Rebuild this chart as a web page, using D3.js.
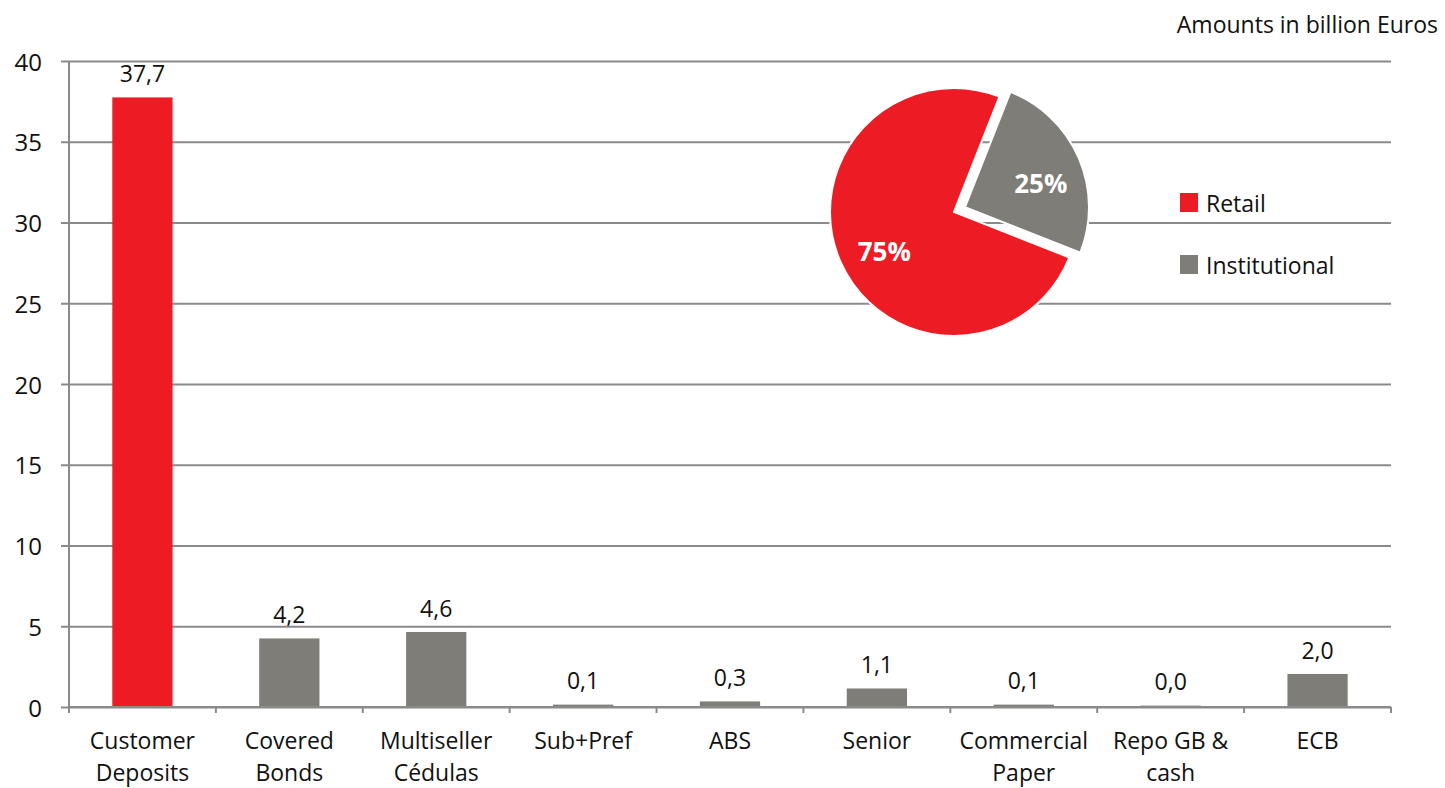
<!DOCTYPE html>
<html>
<head>
<meta charset="utf-8">
<script src="https://cdn.jsdelivr.net/npm/d3@7"></script>
<style>
  html, body { margin: 0; padding: 0; background: #fff; }
  svg { display: block; }
  text { font-family: "Open Sans", "Noto Sans", sans-serif; fill: #111; }
</style>
</head>
<body>
<svg id="chart" width="1445" height="788"></svg>
<script>
// Funding sources, amounts in billion euros
const categories = [
  ["Customer", "Deposits"],
  ["Covered", "Bonds"],
  ["Multiseller", "Cédulas"],
  ["Sub+Pref"],
  ["ABS"],
  ["Senior"],
  ["Commercial", "Paper"],
  ["Repo GB &", "cash"],
  ["ECB"]
];
const amounts = [37.7, 4.2, 4.6, 0.1, 0.3, 1.1, 0.1, 0.04, 2.0];
const segment = ["Retail", "Institutional", "Institutional", "Institutional", "Institutional",
                 "Institutional", "Institutional", "Institutional", "Institutional"];
const yTicks = [0, 5, 10, 15, 20, 25, 30, 35, 40];

// Retail vs institutional split
const splitLabels = ["Retail", "Institutional"];
const splitShares = [75, 25];

const colors = { Retail: "#ed1c24", Institutional: "#7e7d78" };
const gridColor = "#8a8a8a";
const fontSize = 23;

const svg = d3.select("#chart");
const plotLeft = 69, plotRight = 1391, plotTop = 61, plotBottom = 707;

const keys = categories.map(c => c.join(" "));
const x = d3.scaleBand().domain(keys).range([plotLeft, plotRight]).paddingInner(0.6).paddingOuter(0.3);
const y = d3.scaleLinear().domain([0, 40]).range([plotBottom, plotTop]);
const step = x.step();

// Gridlines with left tick marks and value labels
const yAxis = d3.axisLeft(y).tickValues(yTicks).tickSize(-(plotRight - plotLeft + 8)).tickPadding(19)
  .tickFormat(d3.format("d"));
const gy = svg.append("g").attr("transform", `translate(${plotLeft - 8},0)`).call(yAxis);
gy.select(".domain").remove();
gy.selectAll(".tick line").attr("stroke", gridColor).attr("stroke-width", 2);
gy.selectAll(".tick text").attr("font-size", 24).attr("fill", "#111")
  .attr("font-family", "'Open Sans', sans-serif").attr("dy", "0.38em");

// Vertical axis line
svg.append("line").attr("x1", plotLeft).attr("x2", plotLeft).attr("y1", y(40)).attr("y2", y(0))
  .attr("stroke", gridColor).attr("stroke-width", 2);

// Category boundary ticks under the baseline
const bounds = d3.range(keys.length + 1).map(i => plotLeft + i * step);
svg.append("g").selectAll("line").data(bounds).join("line")
  .attr("x1", d => d).attr("x2", d => d).attr("y1", y(0)).attr("y2", y(0) + 6)
  .attr("stroke", gridColor).attr("stroke-width", 2);

// Bars
svg.append("g").selectAll("rect").data(amounts).join("rect")
  .attr("x", (d, i) => x(keys[i]))
  .attr("width", x.bandwidth())
  .attr("y", d => y(d))
  .attr("height", d => Math.max(y(0) - y(d), 0))
  .attr("fill", (d, i) => colors[segment[i]])
  .attr("stroke", (d, i) => colors[segment[i]])
  .attr("stroke-width", 1.5);

// Baseline
svg.append("line").attr("x1", plotLeft).attr("x2", plotRight).attr("y1", y(0)).attr("y2", y(0))
  .attr("stroke", gridColor).attr("stroke-width", 2);

// Value labels
const fmt = d => d3.format(".1f")(d).replace(".", ",");
svg.append("g").selectAll("text").data(amounts).join("text")
  .attr("x", (d, i) => x(keys[i]) + x.bandwidth() / 2)
  .attr("y", d => y(d) - 16)
  .attr("text-anchor", "middle").attr("font-size", fontSize)
  .text(fmt);

// Category labels
const cat = svg.append("g").selectAll("text").data(categories).join("text")
  .attr("x", (d, i) => x(keys[i]) + x.bandwidth() / 2)
  .attr("y", 749)
  .attr("text-anchor", "middle").attr("font-size", fontSize);
cat.selectAll("tspan").data(d => d).join("tspan")
  .attr("x", function () { return this.parentNode.getAttribute("x"); })
  .attr("dy", (d, i) => i === 0 ? 0 : 32)
  .text(d => d);

// Unit note
svg.append("text").attr("x", 1438).attr("y", 33).attr("text-anchor", "end")
  .attr("font-size", fontSize).text("Amounts in billion Euros");

// Pie of retail vs institutional funding
const cx = 954, cy = 212, r = 124;
const pie = d3.pie().sort(null).value(d => d)
  .startAngle(111.5 * Math.PI / 180).endAngle(471.5 * Math.PI / 180);
const arcs = pie(splitShares);
const arc = d3.arc().innerRadius(0).outerRadius(r);
const labelArc = d3.arc().innerRadius(r * 0.64).outerRadius(r * 0.64);
const explode = [0, 12];
const pg = svg.append("g").attr("transform", `translate(${cx},${cy})`);
const slice = pg.selectAll("g").data(arcs).join("g")
  .attr("transform", (d, i) => {
    const a = (d.startAngle + d.endAngle) / 2;
    return `translate(${Math.sin(a) * explode[i]},${-Math.cos(a) * explode[i]})`;
  });
slice.append("path").attr("d", arc)
  .attr("fill", (d, i) => colors[splitLabels[i]])
  .attr("stroke", "#fff").attr("stroke-width", 2);
slice.append("text")
  .attr("transform", d => {
    const [lx, ly] = labelArc.centroid(d);
    return `translate(${lx + 3},${ly + 8})`;
  })
  .attr("text-anchor", "middle").attr("dy", "0.36em")
  .attr("font-size", 26).attr("font-weight", "bold").style("fill", "#fff")
  .text(d => d.data + "%");

// Legend
const lg = svg.append("g").selectAll("g").data(splitLabels).join("g")
  .attr("transform", (d, i) => `translate(1180,${193 + i * 62})`);
lg.append("rect").attr("width", 18).attr("height", 19).attr("fill", d => colors[d]);
lg.append("text").attr("x", 26).attr("y", 19).attr("font-size", fontSize).text(d => d);
</script>
</body>
</html>
